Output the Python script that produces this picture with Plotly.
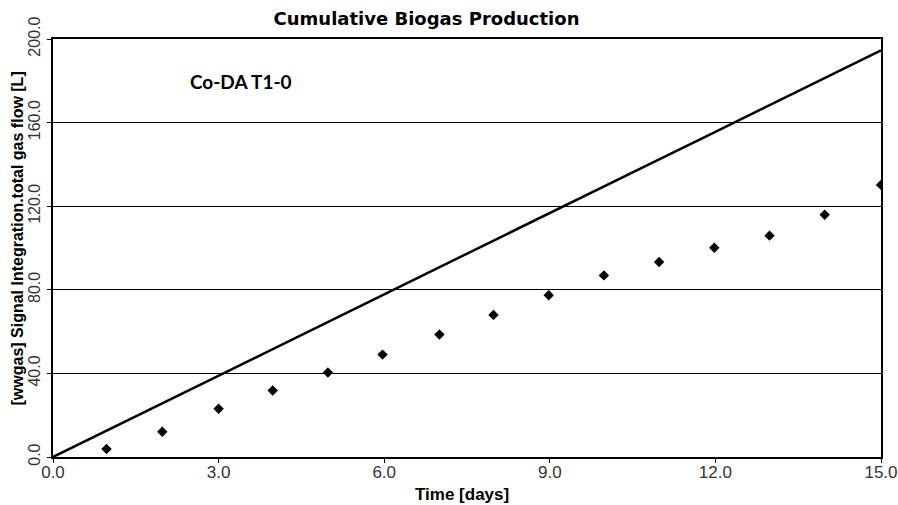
import plotly.graph_objects as go

# Cumulative gas (line), read at whole days
line_days = [0, 1, 2, 3, 4, 5, 6, 7, 8, 9, 10, 11, 12, 13, 14, 15]
line_vals = [0.0, 13.0, 25.9, 38.9, 51.9, 64.8, 77.8, 90.8, 103.8, 116.7, 129.7, 142.7, 155.6, 168.6, 181.6, 194.6]

# Measured points (diamonds)
pt_days = [0.97, 1.98, 3.0, 3.98, 4.98, 5.97, 7.0, 7.98, 8.98, 9.98, 10.98, 11.98, 12.98, 13.98, 15.0]
pt_vals = [3.8, 12.1, 23.1, 31.8, 40.4, 49.0, 58.6, 68.0, 77.4, 86.9, 93.3, 100.1, 105.9, 115.9, 130.2]

x_ticks = [0, 3, 6, 9, 12, 15]
y_ticks = [0, 40, 80, 120, 160, 200]

title_text = "Cumulative Biogas Production"
x_title = "Time [days]"
y_title = "[wwgas] Signal Integration.total gas flow [L]"
label_text = "Co-DA T1-0"

fig = go.Figure()
fig.add_trace(go.Scatter(x=line_days, y=line_vals, mode="lines",
                         line=dict(color="black", width=2.5), showlegend=False,
                         cliponaxis=False))
fig.add_trace(go.Scatter(x=pt_days, y=pt_vals, mode="markers",
                         marker=dict(symbol="diamond", color="black", size=8), showlegend=False,
                         cliponaxis=True))

W, H = 898, 505
L, R, T, B = 53, 17, 39, 48
pw, ph = W - L - R, H - T - B

def px_x(p):
    return (p - L) / pw

def px_y(p):
    return (H - B - p) / ph

fig.update_layout(
    width=W, height=H,
    margin=dict(l=L, r=R, t=T, b=B, autoexpand=False),
    paper_bgcolor="white", plot_bgcolor="white",
    title=dict(text=title_text, x=426.5 / W, xanchor="center", y=1 - 18.5 / H, yanchor="middle",
               font=dict(family="DejaVu Sans", size=18, color="black", weight="bold")),
    xaxis=dict(range=[0, 15], tickvals=x_ticks, ticktext=[f"{v:.1f}" for v in x_ticks],
               automargin=False, ticklabelstandoff=-5,
               showgrid=False, zeroline=False, showline=True, linecolor="black", linewidth=2,
               mirror=True, ticks="outside", ticklen=4, tickcolor="black",
               tickfont=dict(family="Liberation Sans", size=17, color="#333333")),
    yaxis=dict(range=[0, 200], tickvals=y_ticks, ticktext=[f"{v:.1f}" for v in y_ticks],
               automargin=False, ticklabelstandoff=1,
               tickangle=-90, showgrid=True, gridcolor="black", gridwidth=1,
               zeroline=False, showline=True, linecolor="black", linewidth=2,
               mirror=True, ticks="outside", ticklen=4, tickcolor="black",
               tickfont=dict(family="Liberation Sans", size=16, color="#333333")),
    annotations=[
        dict(text=x_title, xref="paper", yref="paper", x=px_x(462), y=px_y(494),
             xanchor="center", yanchor="middle", showarrow=False,
             font=dict(family="Liberation Sans", size=17, color="black", weight="bold")),
        dict(text=y_title, xref="paper", yref="paper", x=px_x(17), y=px_y(238.5),
             xanchor="center", yanchor="middle", showarrow=False, textangle=-90,
             font=dict(family="Liberation Sans", size=16, color="black", weight="bold")),
        dict(text=label_text, xref="paper", yref="paper", x=px_x(241), y=px_y(81.5),
             xanchor="center", yanchor="middle", showarrow=False,
             font=dict(family="Lato", size=19, color="black", weight="bold")),
    ],
)

fig.write_html("out.html")
